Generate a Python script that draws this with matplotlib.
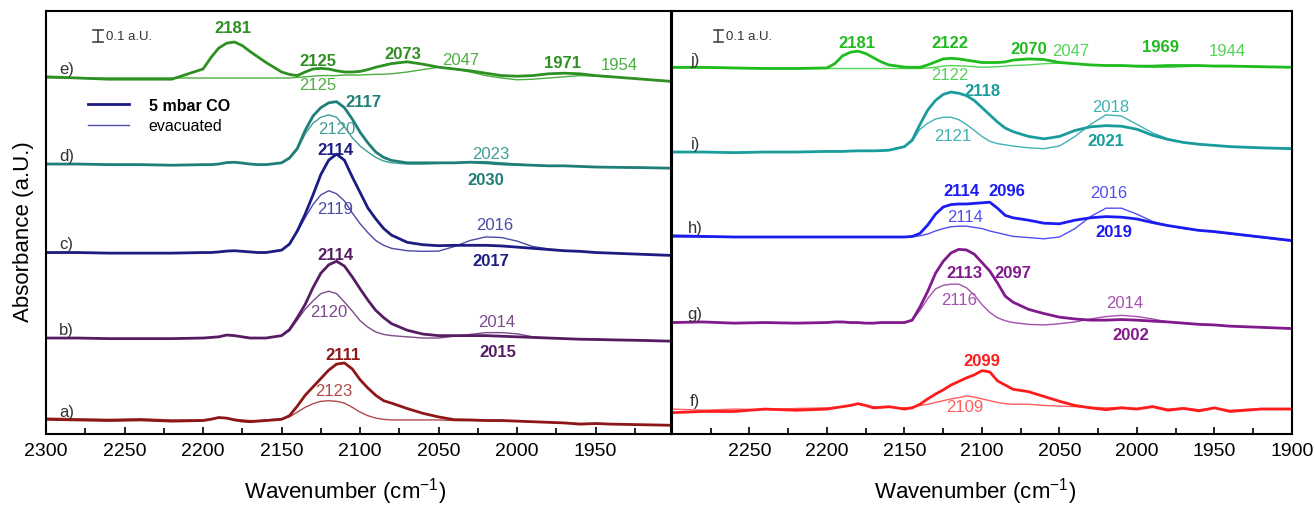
import matplotlib.pyplot as plt
from matplotlib.ticker import MultipleLocator

plt.rcParams['font.family'] = ['Liberation Sans', 'DejaVu Sans']
plt.rcParams['mathtext.default'] = 'regular'

# wavenumber grid (cm-1) the spectra were read on
wn = [2300, 2280, 2260, 2240, 2220, 2200, 2195, 2190, 2185, 2180, 2175, 2170, 2165, 2160,
      2150, 2145, 2140, 2135, 2130, 2125, 2120, 2115, 2110, 2105, 2100, 2095, 2090, 2085,
      2080, 2070, 2060, 2050, 2040, 2030, 2020, 2010, 2000, 1990, 1980, 1970, 1960, 1950,
      1940, 1920, 1900]

# absorbance (a.U.) above each spectrum's own baseline; _co = 5 mbar CO, _ev = evacuated
# left panel
a_co = [0.01, 0.005, 0.0, 0.005, -0.005, 0.0, 0.01, 0.025, 0.02, 0.005, -0.005, -0.01, -0.005, 0.0,
        0.01, 0.04, 0.12, 0.21, 0.28, 0.35, 0.42, 0.47, 0.48, 0.43, 0.34, 0.27, 0.21, 0.165,
        0.145, 0.10, 0.06, 0.03, 0.007, 0.005, 0.0, 0.0, -0.005, -0.01, -0.015, -0.02, -0.03, -0.025,
        -0.03, -0.035, -0.04]
a_ev = [0.02, 0.015, 0.01, 0.015, 0.005, 0.005, 0.015, 0.025, 0.02, 0.01, 0.005, 0.0, 0.0, 0.005,
        0.015, 0.03, 0.07, 0.11, 0.14, 0.16, 0.165, 0.16, 0.145, 0.11, 0.07, 0.04, 0.02, 0.01,
        0.005, 0.005, 0.005, 0.005, 0.0, 0.0, 0.0, 0.0, -0.005, -0.01, -0.015, -0.02, -0.025, -0.025,
        -0.03, -0.035, -0.04]
b_co = [0.0, 0.0, -0.005, -0.005, -0.005, 0.0, 0.005, 0.01, 0.025, 0.02, 0.01, 0.0, 0.0, 0.0,
        0.02, 0.07, 0.17, 0.28, 0.42, 0.54, 0.61, 0.64, 0.60, 0.51, 0.41, 0.315, 0.23, 0.17,
        0.12, 0.065, 0.033, 0.02, 0.02, 0.02, 0.02, 0.015, 0.01, 0.005, 0.0, -0.005, -0.01, -0.012,
        -0.015, -0.02, -0.027]
b_ev = [0.0, 0.0, -0.005, -0.005, -0.005, 0.0, 0.005, 0.01, 0.025, 0.02, 0.01, 0.0, 0.0, 0.0,
        0.02, 0.06, 0.15, 0.24, 0.31, 0.37, 0.39, 0.37, 0.30, 0.225, 0.145, 0.09, 0.05, 0.03,
        0.02, 0.01, 0.0, 0.0, 0.015, 0.03, 0.045, 0.045, 0.035, 0.01, 0.0, -0.005, -0.01, -0.012,
        -0.015, -0.02, -0.027]
c_co = [0.0, 0.0, -0.005, -0.005, -0.005, 0.0, 0.0, 0.005, 0.012, 0.015, 0.01, 0.005, 0.0, 0.0,
        0.02, 0.07, 0.18, 0.32, 0.48, 0.65, 0.77, 0.82, 0.77, 0.63, 0.50, 0.37, 0.28, 0.20,
        0.145, 0.085, 0.065, 0.057, 0.06, 0.06, 0.06, 0.055, 0.045, 0.035, 0.025, 0.015, 0.01, 0.0,
        -0.005, -0.015, -0.025]
c_ev = [0.0, 0.0, -0.005, -0.005, -0.005, 0.0, 0.0, 0.005, 0.012, 0.015, 0.01, 0.005, 0.0, 0.0,
        0.02, 0.07, 0.17, 0.29, 0.40, 0.48, 0.515, 0.49, 0.43, 0.33, 0.24, 0.165, 0.10, 0.06,
        0.035, 0.015, 0.01, 0.012, 0.05, 0.10, 0.13, 0.125, 0.095, 0.05, 0.03, 0.015, 0.01, 0.0,
        -0.005, -0.015, -0.025]
d_co = [0.0, 0.0, -0.005, -0.005, -0.01, -0.005, -0.005, 0.0, 0.012, 0.015, 0.008, 0.0, -0.005, -0.005,
        0.01, 0.05, 0.13, 0.28, 0.40, 0.47, 0.51, 0.52, 0.47, 0.375, 0.265, 0.175, 0.10, 0.055,
        0.03, 0.01, 0.01, 0.01, 0.01, 0.015, 0.01, 0.0, -0.005, -0.01, -0.015, -0.015, -0.02, -0.025,
        -0.027, -0.03, -0.035]
d_ev = [0.0, 0.0, -0.005, -0.005, -0.01, -0.005, -0.005, 0.0, 0.012, 0.015, 0.008, 0.0, -0.005, -0.005,
        0.01, 0.045, 0.12, 0.25, 0.34, 0.39, 0.41, 0.39, 0.31, 0.22, 0.15, 0.10, 0.055, 0.025,
        0.01, 0.0, 0.0, 0.005, 0.01, 0.02, 0.02, 0.01, 0.0, -0.01, -0.015, -0.015, -0.02, -0.025,
        -0.027, -0.03, -0.035]
e_co = [0.01, 0.0, -0.01, -0.01, -0.01, 0.075, 0.17, 0.25, 0.29, 0.30, 0.27, 0.22, 0.175, 0.13,
        0.05, 0.03, 0.02, 0.05, 0.075, 0.08, 0.075, 0.06, 0.05, 0.05, 0.055, 0.07, 0.09, 0.105,
        0.12, 0.135, 0.115, 0.09, 0.075, 0.06, 0.04, 0.02, 0.015, 0.02, 0.035, 0.04, 0.035, 0.02,
        0.01, -0.01, -0.03]
e_ev = [0.0, 0.0, 0.0, 0.0, 0.0, 0.0, 0.0, 0.0, 0.0, 0.0, 0.0, 0.0, 0.0, 0.0,
        0.0, 0.0, 0.005, 0.01, 0.015, 0.02, 0.02, 0.02, 0.025, 0.025, 0.025, 0.028, 0.03, 0.032,
        0.035, 0.05, 0.07, 0.09, 0.075, 0.05, 0.02, 0.0, -0.015, -0.01, 0.0, 0.01, 0.02, 0.015,
        0.01, -0.01, -0.03]

# right panel
f_co = [-0.03, -0.02, -0.02, 0.0, -0.01, 0.0, 0.01, 0.02, 0.03, 0.045, 0.03, 0.01, 0.015, 0.02,
        0.0, 0.01, 0.04, 0.085, 0.125, 0.16, 0.20, 0.23, 0.26, 0.285, 0.32, 0.31, 0.235, 0.20,
        0.165, 0.145, 0.105, 0.065, 0.03, 0.01, -0.005, 0.01, 0.0, 0.02, -0.01, 0.005, -0.015, 0.01,
        -0.02, 0.0, 0.0]
f_ev = [0.0, -0.01, 0.0, -0.005, 0.005, 0.01, 0.015, 0.02, 0.03, 0.04, 0.03, 0.02, 0.01, 0.015,
        0.01, 0.015, 0.03, 0.04, 0.055, 0.07, 0.085, 0.095, 0.11, 0.10, 0.085, 0.07, 0.055, 0.045,
        0.04, 0.04, 0.03, 0.025, 0.02, 0.015, 0.01, 0.015, 0.005, 0.025, 0.0, 0.01, -0.005, 0.01,
        -0.01, 0.005, 0.005]
g_co = [0.0, 0.005, -0.005, 0.0, -0.005, 0.0, 0.005, 0.005, 0.0, 0.0, -0.005, -0.005, 0.0, 0.0,
        0.0, 0.02, 0.13, 0.26, 0.41, 0.51, 0.58, 0.61, 0.605, 0.57, 0.50, 0.43, 0.33, 0.22,
        0.17, 0.11, 0.075, 0.045, 0.03, 0.02, 0.02, 0.025, 0.02, 0.012, 0.005, -0.005, -0.015, -0.02,
        -0.03, -0.04, -0.05]
g_ev = [0.0, 0.005, -0.005, 0.0, -0.005, 0.0, 0.005, 0.005, 0.0, 0.0, -0.005, -0.005, 0.0, 0.0,
        0.0, 0.02, 0.10, 0.20, 0.28, 0.31, 0.32, 0.32, 0.29, 0.23, 0.15, 0.085, 0.04, 0.015,
        0.0, -0.015, -0.02, -0.01, 0.005, 0.03, 0.05, 0.06, 0.05, 0.03, 0.005, -0.005, -0.015, -0.02,
        -0.03, -0.04, -0.05]
h_co = [0.01, 0.005, 0.0, 0.0, 0.0, 0.0, 0.0, 0.0, 0.0, 0.0, 0.0, 0.0, 0.0, 0.0,
        0.0, 0.005, 0.03, 0.10, 0.19, 0.25, 0.27, 0.275, 0.275, 0.28, 0.285, 0.29, 0.24, 0.18,
        0.16, 0.14, 0.115, 0.11, 0.14, 0.16, 0.17, 0.165, 0.15, 0.12, 0.095, 0.075, 0.055, 0.045,
        0.03, 0.0, -0.03]
h_ev = [0.0, 0.0, 0.0, 0.0, 0.0, 0.0, 0.0, 0.0, 0.0, 0.0, 0.0, 0.0, 0.0, 0.0,
        0.0, 0.0, 0.01, 0.025, 0.05, 0.07, 0.085, 0.09, 0.09, 0.08, 0.07, 0.05, 0.035, 0.02,
        0.005, -0.005, -0.015, 0.0, 0.07, 0.17, 0.24, 0.24, 0.19, 0.13, 0.095, 0.07, 0.055, 0.04,
        0.025, -0.005, -0.035]
i_co = [0.0, 0.0, -0.005, 0.0, 0.0, 0.005, 0.005, 0.005, 0.008, 0.01, 0.01, 0.01, 0.012, 0.015,
        0.045, 0.10, 0.23, 0.35, 0.43, 0.48, 0.50, 0.49, 0.47, 0.43, 0.37, 0.31, 0.25, 0.20,
        0.17, 0.13, 0.11, 0.13, 0.18, 0.21, 0.22, 0.215, 0.19, 0.14, 0.105, 0.08, 0.065, 0.055,
        0.045, 0.035, 0.028]
i_ev = [0.0, 0.0, -0.005, 0.0, 0.0, 0.005, 0.005, 0.005, 0.008, 0.01, 0.01, 0.01, 0.012, 0.015,
        0.045, 0.09, 0.19, 0.24, 0.275, 0.29, 0.29, 0.27, 0.23, 0.18, 0.13, 0.09, 0.07, 0.06,
        0.05, 0.035, 0.028, 0.05, 0.13, 0.23, 0.31, 0.30, 0.23, 0.16, 0.11, 0.08, 0.065, 0.055,
        0.045, 0.035, 0.028]
j_co = [0.01, 0.01, 0.005, 0.0, 0.0, 0.005, 0.04, 0.105, 0.135, 0.145, 0.125, 0.09, 0.055, 0.03,
        0.012, 0.01, 0.01, 0.03, 0.055, 0.08, 0.085, 0.08, 0.07, 0.06, 0.05, 0.05, 0.05, 0.055,
        0.07, 0.08, 0.075, 0.05, 0.04, 0.03, 0.025, 0.025, 0.02, 0.02, 0.025, 0.025, 0.025, 0.02,
        0.02, 0.015, 0.01]
j_ev = [0.005, 0.005, 0.0, 0.0, 0.0, 0.0, 0.0, 0.0, 0.0, 0.0, 0.0, 0.0, 0.0, 0.0,
        0.0, 0.0, 0.0, 0.005, 0.01, 0.02, 0.025, 0.022, 0.02, 0.015, 0.01, 0.012, 0.015, 0.02,
        0.025, 0.03, 0.04, 0.045, 0.04, 0.03, 0.025, 0.02, 0.015, 0.01, 0.01, 0.015, 0.02, 0.025,
        0.025, 0.015, 0.01]

# vertical offsets of the stacked spectra (a.U.)
left_offsets = [0.1125, 0.80, 1.5125, 2.25, 2.967]
right_offsets = [0.208, 0.929, 1.642, 2.35, 3.046]

left_names = ['a)', 'b)', 'c)', 'd)', 'e)']
right_names = ['f)', 'g)', 'h)', 'i)', 'j)']
left_co = [a_co, b_co, c_co, d_co, e_co]
left_ev = [a_ev, b_ev, c_ev, d_ev, e_ev]
right_co = [f_co, g_co, h_co, i_co, j_co]
right_ev = [f_ev, g_ev, h_ev, i_ev, j_ev]

left_colors = ['#8e1616', '#561d63', '#1c1c82', '#1f7f78', '#2e8f22']
left_light = ['#b04a4a', '#7d4a8c', '#4b4ba6', '#3f9d95', '#4cae3e']
right_colors = ['#ff1c1c', '#811a8c', '#1c1cf0', '#1a9c9c', '#1fbb1f']
right_light = ['#ff5e5e', '#a452ad', '#5050f2', '#40b2b2', '#55d355']

fig = plt.figure(figsize=(13.15, 5.10), dpi=100)
axL = fig.add_axes([0.035, 0.147, 0.4753, 0.8294])
axR = fig.add_axes([0.511, 0.147, 0.4715, 0.8294])

handles = []
for ax, offs, cos, evs, cols, lights in [
        (axL, left_offsets, left_co, left_ev, left_colors, left_light),
        (axR, right_offsets, right_co, right_ev, right_colors, right_light)]:
    for off, co, ev, col, lc in zip(offs, cos, evs, cols, lights):
        l2, = ax.plot(wn, [off + v for v in ev], color=lc, lw=1.0)
        l1, = ax.plot(wn, [off + v for v in co], color=col, lw=2.0)
        if ax is axL and col == '#1c1c82':
            handles = [l1, l2]

axL.set_xlim(2300, 1902)
axR.set_xlim(2300, 1900)
for ax in (axL, axR):
    ax.set_ylim(0, 3.525)
    ax.xaxis.set_minor_locator(MultipleLocator(25))
    ax.tick_params(axis='x', which='both', direction='in', width=1.2, labelsize=14, pad=6,
                   top=False)
    ax.tick_params(axis='x', which='major', length=5)
    ax.tick_params(axis='x', which='minor', length=4)
    ax.tick_params(axis='y', which='both', left=False, labelleft=False)
    for s in ax.spines.values():
        s.set_linewidth(1.5)
    ax.set_xlabel('Wavenumber (cm$^{-1}$)', fontsize=16)

axL.set_xticks(range(2300, 1949, -50))
axR.set_xticks(range(2250, 1899, -50))
axL.xaxis.set_label_coords(0.478, -0.098)
axR.xaxis.set_label_coords(0.489, -0.098)
axL.set_ylabel('Absorbance (a.U.)', fontsize=16)
axL.yaxis.set_label_coords(-0.02, 0.48)

# spectrum letters
for name, off in zip(left_names, left_offsets):
    axL.text(2287, off + 0.075, name, fontsize=12, color='#333333', ha='center', va='center')
for name, off in zip(right_names, right_offsets):
    axR.text(2285, off + 0.075, name, fontsize=12, color='#333333', ha='center', va='center')

# 0.1 a.U. scale bars
for ax, xb in [(axL, 2267), (axR, 2270)]:
    ax.plot([xb, xb], [3.265, 3.365], color='#444444', lw=1.2)
    ax.plot([xb - 3, xb + 3], [3.265, 3.265], color='#444444', lw=1.2)
    ax.plot([xb - 3, xb + 3], [3.365, 3.365], color='#444444', lw=1.2)
    ax.text(xb - 5, 3.32, '0.1 a.U.', fontsize=9.5, color='#333333', va='center')

# peak labels: (x, y, text, color, bold)
left_labels = [
    (2181, 3.385, '2181', '#2e8f22', True), (2127, 3.11, '2125', '#2e8f22', True),
    (2127, 2.91, '2125', '#4cae3e', False), (2073, 3.17, '2073', '#2e8f22', True),
    (2036, 3.12, '2047', '#4cae3e', False), (1971, 3.10, '1971', '#2e8f22', True),
    (1935, 3.08, '1954', '#4cae3e', False),
    (2098, 2.77, '2117', '#1f7f78', True), (2115, 2.55, '2120', '#3f9d95', False),
    (2017, 2.34, '2023', '#3f9d95', False), (2020, 2.125, '2030', '#1f7f78', True),
    (2116, 2.375, '2114', '#1c1c82', True), (2116, 1.88, '2119', '#4b4ba6', False),
    (2014, 1.75, '2016', '#4b4ba6', False), (2017, 1.444, '2017', '#1c1c82', True),
    (2116, 1.50, '2114', '#561d63', True), (2120, 1.02, '2120', '#7d4a8c', False),
    (2013, 0.936, '2014', '#7d4a8c', False), (2012, 0.69, '2015', '#561d63', True),
    (2111, 0.66, '2111', '#8e1616', True), (2117, 0.36, '2123', '#b04a4a', False)]
right_labels = [
    (2181, 3.26, '2181', '#1fbb1f', True), (2121, 3.265, '2122', '#1fbb1f', True),
    (2121, 3.0, '2122', '#55d355', False), (2070, 3.214, '2070', '#1fbb1f', True),
    (2043, 3.20, '2047', '#55d355', False), (1985, 3.23, '1969', '#1fbb1f', True),
    (1942, 3.20, '1944', '#55d355', False),
    (2100, 2.86, '2118', '#1a9c9c', True), (2119, 2.486, '2121', '#40b2b2', False),
    (2017, 2.73, '2018', '#40b2b2', False), (2020, 2.444, '2021', '#1a9c9c', True),
    (2113, 2.03, '2114', '#1c1cf0', True), (2084, 2.03, '2096', '#1c1cf0', True),
    (2111, 1.81, '2114', '#5050f2', False), (2018, 2.01, '2016', '#5050f2', False),
    (2015, 1.686, '2019', '#1c1cf0', True),
    (2111, 1.35, '2113', '#811a8c', True), (2080, 1.35, '2097', '#811a8c', True),
    (2115, 1.125, '2116', '#a452ad', False), (2008, 1.10, '2014', '#a452ad', False),
    (2004, 0.83, '2002', '#811a8c', True),
    (2100, 0.614, '2099', '#ff1c1c', True), (2111, 0.233, '2109', '#ff5e5e', False)]
for ax, labels in [(axL, left_labels), (axR, right_labels)]:
    for x, y, t, col, bold in labels:
        ax.text(x, y, t, color=col, fontsize=12, ha='center', va='center',
                fontweight='bold' if bold else 'normal')

leg = axL.legend(handles, ['5 mbar CO', 'evacuated'], loc='upper left',
                 bbox_to_anchor=(0.067, 0.795), frameon=False, fontsize=11.5,
                 borderpad=0, borderaxespad=0, handlelength=2.6, handletextpad=1.2,
                 labelspacing=0.35)
leg.get_texts()[0].set_fontweight('bold')

fig.savefig('out.png', dpi=100)
